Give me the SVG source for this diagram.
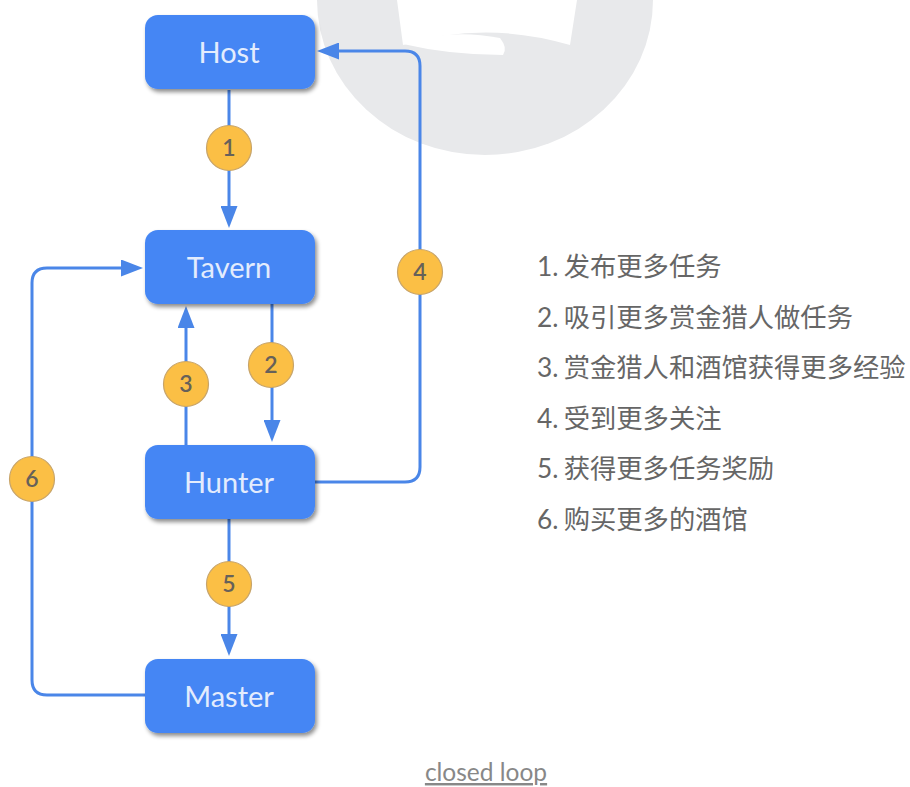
<svg xmlns="http://www.w3.org/2000/svg" width="910" height="787" viewBox="0 0 910 787">
<defs>
<style>
.box{fill:#4486f4;}
.lbl{font-family:Lato,"Open Sans","Liberation Sans",sans-serif;font-size:29px;font-weight:400;fill:#e3ecfd;text-anchor:middle;}
.conn{fill:none;stroke:#4a86e8;stroke-width:3;}
.badge{fill:#fbbf45;stroke:#c7a46a;stroke-width:1.2;}
.num{font-family:Lato,"Open Sans","Liberation Sans",sans-serif;font-size:23px;font-weight:600;fill:#66615a;text-anchor:middle;}
.leg{font-family:Lato,"Noto Sans CJK SC",sans-serif;font-size:26.3px;fill:#666;word-spacing:-1.5px;}
.cap{font-family:Lato,"Liberation Sans",sans-serif;font-size:24.5px;fill:#888;text-anchor:middle;text-decoration:underline;}
</style>
<filter id="sh" x="-20%" y="-20%" width="140%" height="150%">
<feDropShadow dx="2" dy="3" stdDeviation="2" flood-color="#000" flood-opacity="0.45"/>
</filter>
<marker id="ar" markerUnits="userSpaceOnUse" markerWidth="22" markerHeight="17" refX="12" refY="8.5" orient="auto">
<path d="M0,0 L22,8.5 L0,17 Z" fill="#4a86e8"/>
</marker>
</defs>
<rect width="910" height="787" fill="#fff"/>
<g id="bg-logo">
<path d="M317,0 L653,0 A168,155 0 0 1 485,155 A168,155 0 0 1 317,0 Z" fill="#e8e9eb"/>
<path d="M397,0 L577,0 L570,45 Q485,20 403,45 Z" fill="#fff"/>
<path d="M403,44 Q450,28 500,38 Q508,48 503,55 Q450,55 403,44 Z" fill="#fff"/>
</g>
<g id="connectors">
<path class="conn" d="M229,90 V218" marker-end="url(#ar)"/>
<path class="conn" d="M272,304 V432" marker-end="url(#ar)"/>
<path class="conn" d="M186,445 V316" marker-end="url(#ar)"/>
<path class="conn" d="M315,482 H405 Q420,482 420,467 V66 Q420,51 405,51 H327" marker-end="url(#ar)"/>
<path class="conn" d="M229,518 V646" marker-end="url(#ar)"/>
<path class="conn" d="M145,695 H47 Q32,695 32,680 V283 Q32,268 47,268 H133" marker-end="url(#ar)"/>
<g id="badge1"><circle class="badge" cx="229" cy="148" r="22.5"/><text class="num" x="229" y="156">1</text></g>
<g id="badge2"><circle class="badge" cx="271" cy="365" r="22.5"/><text class="num" x="271" y="373">2</text></g>
<g id="badge3"><circle class="badge" cx="186" cy="384" r="22.5"/><text class="num" x="186" y="392">3</text></g>
<g id="badge4"><circle class="badge" cx="420" cy="272" r="22.5"/><text class="num" x="420" y="280">4</text></g>
<g id="badge5"><circle class="badge" cx="229" cy="584" r="22.5"/><text class="num" x="229" y="592">5</text></g>
<g id="badge6"><circle class="badge" cx="32" cy="479" r="22.5"/><text class="num" x="32" y="487">6</text></g>
</g>
<g id="host"><rect class="box" x="145" y="15" width="170" height="74" rx="13" filter="url(#sh)"/><text class="lbl" x="229" y="63">Host</text></g>
<g id="tavern"><rect class="box" x="145" y="230" width="170" height="74" rx="13" filter="url(#sh)"/><text class="lbl" x="229" y="278">Tavern</text></g>
<g id="hunter"><rect class="box" x="145" y="445" width="170" height="74" rx="13" filter="url(#sh)"/><text class="lbl" x="229" y="493">Hunter</text></g>
<g id="master"><rect class="box" x="145" y="659" width="170" height="74" rx="13" filter="url(#sh)"/><text class="lbl" x="229" y="707">Master</text></g>
<g id="legend">
<text class="leg" x="537" y="276">1. 发布更多任务</text>
<text class="leg" x="537" y="327">2. 吸引更多赏金猎人做任务</text>
<text class="leg" x="537" y="377">3. 赏金猎人和酒馆获得更多经验</text>
<text class="leg" x="537" y="428">4. 受到更多关注</text>
<text class="leg" x="537" y="478">5. 获得更多任务奖励</text>
<text class="leg" x="537" y="529">6. 购买更多的酒馆</text>
</g>
<text class="cap" x="486" y="781">closed loop</text>
</svg>
